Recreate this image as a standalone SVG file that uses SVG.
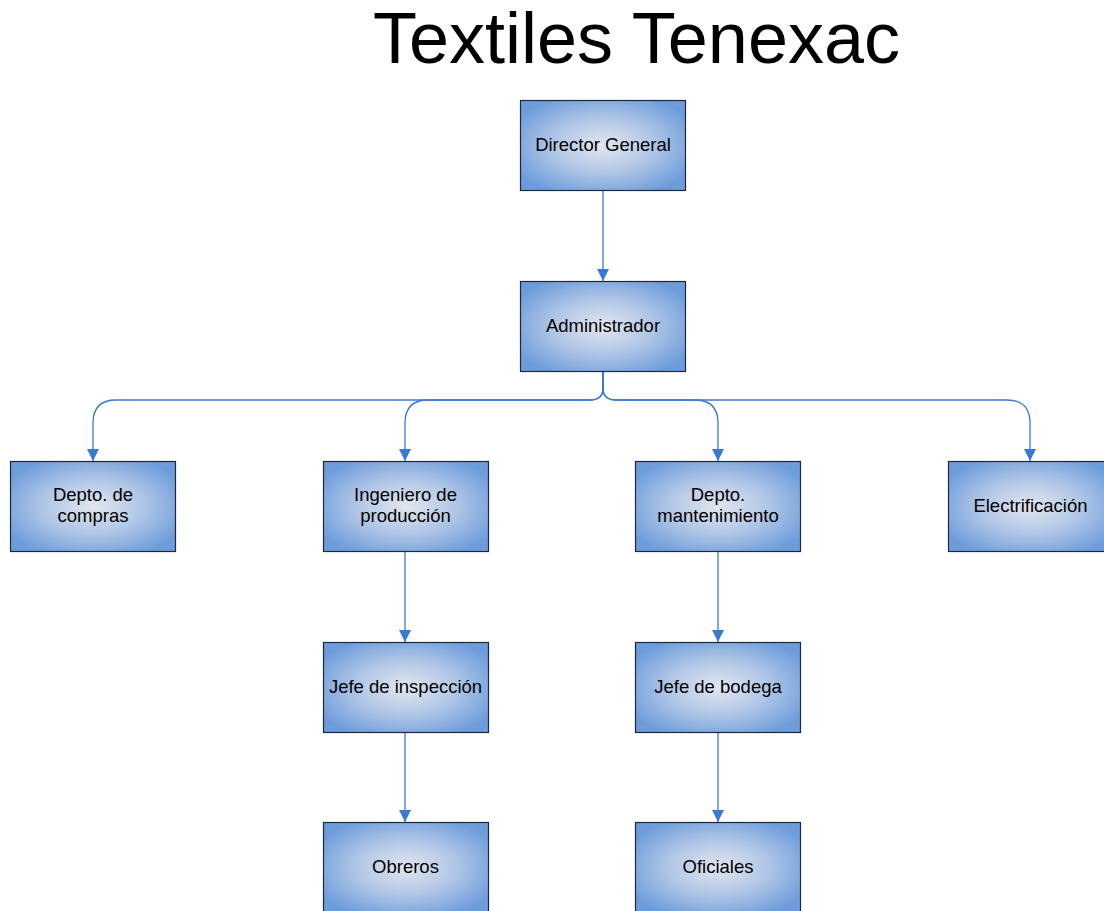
<svg xmlns="http://www.w3.org/2000/svg" width="1104" height="911" viewBox="0 0 1104 911">
<style>
.box{fill:url(#g);stroke:#1e2838;stroke-width:1.2}
.lbl{font-family:"Liberation Sans",Arial,sans-serif;font-size:18.5px;fill:#000;text-anchor:middle}
.title{font-family:"Liberation Sans",Arial,sans-serif;font-size:72px;fill:#000;text-anchor:middle}
.con{fill:none;stroke:#3a78d6;stroke-width:1.3}
</style>
<defs>
<radialGradient id="g" cx="0.5" cy="0.5" r="0.6">
<stop offset="0" stop-color="#e2e6ee"/>
<stop offset="0.5" stop-color="#b0c6e6"/>
<stop offset="1" stop-color="#6d9cdb"/>
</radialGradient>
<marker id="a" markerUnits="userSpaceOnUse" markerWidth="13" markerHeight="13" refX="12" refY="6" orient="auto">
<path d="M0,0 L12,6 L0,12 z" fill="#3a78d6"/>
</marker>
</defs>
<rect width="1104" height="911" fill="#fff"/>
<text class="title" x="636.5" y="63">Textiles Tenexac</text>
<g id="connectors">
<path class="con" marker-end="url(#a)" d="M603,190 V281"/>
<path class="con" marker-end="url(#a)" d="M603,371 V388 Q603,400 590,400 H116 Q93,400 93,423 V461"/>
<path class="con" marker-end="url(#a)" d="M603,371 V388 Q603,400 590,400 H428 Q405,400 405,423 V461"/>
<path class="con" marker-end="url(#a)" d="M603,371 V388 Q603,400 616,400 H695 Q718,400 718,423 V461"/>
<path class="con" marker-end="url(#a)" d="M603,371 V388 Q603,400 616,400 H1007 Q1030,400 1030,423 V461"/>
<path class="con" marker-end="url(#a)" d="M405,551 V642"/>
<path class="con" marker-end="url(#a)" d="M405,732 V822"/>
<path class="con" marker-end="url(#a)" d="M718,551 V642"/>
<path class="con" marker-end="url(#a)" d="M718,732 V822"/>
</g>
<g id="director">
<rect class="box" x="520.5" y="100.5" width="165" height="90"/>
<text class="lbl" x="603" y="151">Director General</text>
</g>
<g id="administrador">
<rect class="box" x="520.5" y="281.5" width="165" height="90"/>
<text class="lbl" x="603" y="332">Administrador</text>
</g>
<g id="compras">
<rect class="box" x="10.5" y="461.5" width="165" height="90"/>
<text class="lbl" x="93" y="501">Depto. de</text>
<text class="lbl" x="93" y="522">compras</text>
</g>
<g id="ingeniero">
<rect class="box" x="323.5" y="461.5" width="165" height="90"/>
<text class="lbl" x="405.5" y="501">Ingeniero de</text>
<text class="lbl" x="405.5" y="522">producción</text>
</g>
<g id="mantenimiento">
<rect class="box" x="635.5" y="461.5" width="165" height="90"/>
<text class="lbl" x="718" y="501">Depto.</text>
<text class="lbl" x="718" y="522">mantenimiento</text>
</g>
<g id="electrificacion">
<rect class="box" x="948.5" y="461.5" width="165" height="90"/>
<text class="lbl" x="1030.5" y="512">Electrificación</text>
</g>
<g id="inspeccion">
<rect class="box" x="323.5" y="642.5" width="165" height="90"/>
<text class="lbl" x="405.5" y="693">Jefe de inspección</text>
</g>
<g id="bodega">
<rect class="box" x="635.5" y="642.5" width="165" height="90"/>
<text class="lbl" x="718" y="693">Jefe de bodega</text>
</g>
<g id="obreros">
<rect class="box" x="323.5" y="822.5" width="165" height="90"/>
<text class="lbl" x="405.5" y="873">Obreros</text>
</g>
<g id="oficiales">
<rect class="box" x="635.5" y="822.5" width="165" height="90"/>
<text class="lbl" x="718" y="873">Oficiales</text>
</g>
</svg>
